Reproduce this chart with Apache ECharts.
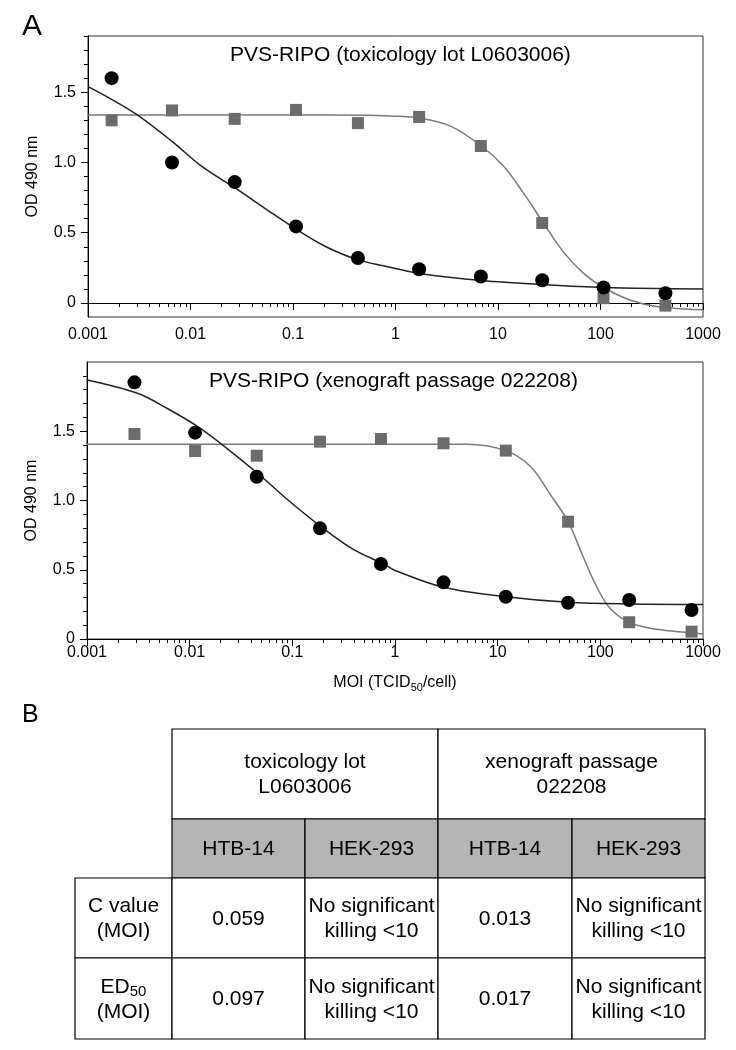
<!DOCTYPE html>
<html><head><meta charset="utf-8">
<script src="https://cdn.jsdelivr.net/npm/echarts@6/dist/echarts.min.js"></script>
<style>html,body{margin:0;padding:0;background:#fff}#c{width:736px;height:1050px}</style>
</head><body><div id="c"></div>
<script>
// ---------- data ----------
const xTicks = [0.001, 0.01, 0.1, 1, 10, 100, 1000];
const xTickLabels = ['0.001', '0.01', '0.1', '1', '10', '100', '1000'];
const yTicks = [0, 0.5, 1.0, 1.5];
const yTickLabels = ['0', '0.5', '1.0', '1.5'];
const yMinorTicks = [0.1,0.2,0.3,0.4,0.6,0.7,0.8,0.9,1.1,1.2,1.3,1.4,1.6,1.7,1.8,1.9];
const xMinorTicks = [0.002,0.003,0.004,0.005,0.006,0.007,0.008,0.009,
  0.02,0.03,0.04,0.05,0.06,0.07,0.08,0.09,0.2,0.3,0.4,0.5,0.6,0.7,0.8,0.9,
  2,3,4,5,6,7,8,9,20,30,40,50,60,70,80,90,200,300,400,500,600,700,800,900];

const titleTox = 'PVS-RIPO (toxicology lot L0603006)';
const titleXeno = 'PVS-RIPO (xenograft passage 022208)';

// toxicology lot: HTB-14 (circles), HEK-293 (squares)
const toxDose    = [0.0017, 0.0066, 0.027, 0.107, 0.43, 1.7, 6.8, 27, 107, 430];
const toxHTB14   = [1.60, 1.00, 0.86, 0.545, 0.32, 0.24, 0.188, 0.162, 0.11, 0.069];
const toxHEK293  = [1.30, 1.37, 1.31, 1.374, 1.28, 1.324, 1.117, 0.569, 0.034, -0.019];
const toxFitHTB14X = [0.001, 0.0016, 0.003, 0.0066, 0.013, 0.027, 0.054, 0.11, 0.21, 0.42, 1, 1.7, 6.9, 28, 107, 1000];
const toxFitHTB14Y = [1.54, 1.46, 1.34, 1.15, 0.97, 0.82, 0.67, 0.52, 0.40, 0.31, 0.245, 0.21, 0.16, 0.13, 0.11, 0.10];
const toxFitHEKX = [0.001, 0.1, 0.5, 0.88, 1.7, 3.4, 6.9, 11.3, 17.7, 27.7, 43, 68, 107, 194, 353, 746, 1000];
const toxFitHEKY = [1.338, 1.338, 1.336, 1.331, 1.317, 1.26, 1.117, 0.974, 0.783, 0.569, 0.367, 0.212, 0.11, 0.021, -0.026, -0.045, -0.048];

// xenograft passage: HTB-14 (circles), HEK-293 (squares)
const xenoDose   = [0.0029, 0.0113, 0.045, 0.186, 0.73, 2.97, 12, 48.5, 191, 774];
const xenoHTB14  = [1.853, 1.49, 1.172, 0.799, 0.541, 0.409, 0.305, 0.262, 0.282, 0.209];
const xenoHEK293 = [1.48, 1.357, 1.323, 1.425, 1.444, 1.413, 1.36, 0.847, 0.121, 0.053];
const xenoFitHTB14X = [0.001, 0.0031, 0.006, 0.012, 0.023, 0.048, 0.095, 0.2, 0.4, 0.78, 1, 2.97, 12, 48.5, 194, 1000];
const xenoFitHTB14Y = [1.87, 1.774, 1.666, 1.533, 1.377, 1.184, 0.991, 0.799, 0.643, 0.541, 0.495, 0.373, 0.305, 0.265, 0.253, 0.25];
const xenoFitHEKX = [0.001, 1, 4.9, 12, 21, 32, 48.5, 68, 92, 124, 194, 353, 746, 1000];
const xenoFitHEKY = [1.406, 1.406, 1.406, 1.36, 1.244, 1.052, 0.847, 0.594, 0.378, 0.222, 0.118, 0.07, 0.046, 0.036];

// table (panel B)
const tableGroups = ['toxicology lot\nL0603006', 'xenograft passage\n022208'];
const cellLines = ['HTB-14', 'HEK-293', 'HTB-14', 'HEK-293'];
const rowLabels = ['{a|C value}\n{a|(MOI)}', '{a|ED}{s|50}\n{a|(MOI)}'];
const rowValues = [
  ['0.059', 'No significant\nkilling <10', '0.013', 'No significant\nkilling <10'],
  ['0.097', 'No significant\nkilling <10', '0.017', 'No significant\nkilling <10']
];

// ---------- layout / style ----------
const FONT = "'Liberation Sans', Arial, sans-serif";
const zip = (a, b) => a.map((v, i) => [v, b[i]]);
const xLabelFmt = v => xTickLabels[Math.round(Math.log10(v)) + 3];
const yLabelFmt = v => { const i = yTicks.findIndex(t => Math.abs(t - v) < 1e-9); return i >= 0 ? yTickLabels[i] : ''; };

function xAxesFor(grid, labelMargin, name) {
  const base = {
    gridIndex: grid, type: 'log', logBase: 10, min: 0.001, max: 1000, position: 'bottom',
    splitLine: { show: false }
  };
  return [
    Object.assign({}, base, {
      axisLine: { show: true, lineStyle: { color: '#000', width: 1 } },
      axisTick: { show: true, customValues: xTicks, length: 7, lineStyle: { color: '#000' } },
      axisLabel: { customValues: xTicks, formatter: xLabelFmt, margin: labelMargin, color: '#000', fontSize: 16, fontFamily: FONT },
      name: name || '', nameLocation: 'middle', nameGap: 34,
      nameTextStyle: {
        color: '#000', fontFamily: FONT,
        rich: { a: { fontSize: 16, lineHeight: 20, fontFamily: FONT, color: '#000' },
                s: { fontSize: 11, lineHeight: 8, fontFamily: FONT, color: '#000', verticalAlign: 'bottom' } }
      }
    }),
    Object.assign({}, base, {
      axisLine: { show: false },
      axisTick: { show: true, customValues: xMinorTicks, length: 4, lineStyle: { color: '#000' } },
      axisLabel: { show: false }
    })
  ];
}
function yAxesFor(grid, min, max) {
  const base = { gridIndex: grid, type: 'value', min: min, max: max, position: 'left', splitLine: { show: false } };
  return [
    Object.assign({}, base, {
      axisLine: { show: true, lineStyle: { color: '#000', width: 1 } },
      axisTick: { show: true, customValues: yTicks, length: 7, lineStyle: { color: '#000' } },
      axisLabel: { customValues: yTicks, formatter: yLabelFmt, margin: 12, color: '#000', fontSize: 16, fontFamily: FONT },
      name: 'OD 490 nm', nameLocation: 'middle', nameGap: 47,
      nameTextStyle: { color: '#000', fontSize: 16, fontFamily: FONT }
    }),
    Object.assign({}, base, {
      axisLine: { show: false },
      axisTick: { show: true, customValues: yMinorTicks, length: 4, lineStyle: { color: '#000' } },
      axisLabel: { show: false }
    })
  ];
}

const CIRCLE = { type: 'scatter', symbol: 'circle', symbolSize: 14, itemStyle: { color: '#000', opacity: 1 }, z: 5 };
const SQUARE = { type: 'scatter', symbol: 'rect', symbolSize: 12, itemStyle: { color: '#6c6c6c', opacity: 1 }, z: 4 };
const FITBLACK = { type: 'line', smooth: 0.35, showSymbol: false, symbol: 'none', lineStyle: { color: '#222', width: 1.5 }, z: 3 };
const FITGRAY = { type: 'line', smooth: 0.35, showSymbol: false, symbol: 'none', lineStyle: { color: '#7a7a7a', width: 1.5 }, z: 2 };

const series = [
  Object.assign({}, FITGRAY, { xAxisIndex: 0, yAxisIndex: 0, data: zip(toxFitHEKX, toxFitHEKY) }),
  Object.assign({}, FITBLACK, { xAxisIndex: 0, yAxisIndex: 0, data: zip(toxFitHTB14X, toxFitHTB14Y) }),
  Object.assign({}, SQUARE, { xAxisIndex: 0, yAxisIndex: 0, data: zip(toxDose, toxHEK293) }),
  Object.assign({}, CIRCLE, { xAxisIndex: 0, yAxisIndex: 0, data: zip(toxDose, toxHTB14) }),
  Object.assign({}, FITGRAY, { xAxisIndex: 2, yAxisIndex: 2, data: zip(xenoFitHEKX, xenoFitHEKY) }),
  Object.assign({}, FITBLACK, { xAxisIndex: 2, yAxisIndex: 2, data: zip(xenoFitHTB14X, xenoFitHTB14Y) }),
  Object.assign({}, SQUARE, { xAxisIndex: 2, yAxisIndex: 2, data: zip(xenoDose, xenoHEK293) }),
  Object.assign({}, CIRCLE, { xAxisIndex: 2, yAxisIndex: 2, data: zip(xenoDose, xenoHTB14) })
];

// table graphics
const colX = [75, 172, 305, 438, 572, 705];
const rowY = [729, 819, 878, 958, 1039];
const cellText = { fontSize: 21, fontFamily: FONT, fill: '#000', align: 'center', verticalAlign: 'middle', lineHeight: 25 };
const graphics = [];
function cell(x0, x1, y0, y1, fill, text, rich) {
  graphics.push({ type: 'rect', shape: { x: x0, y: y0, width: x1 - x0, height: y1 - y0 },
    style: { fill: fill, stroke: '#000', lineWidth: 1.2 }, z: 10 });
  graphics.push({ type: 'text', x: (x0 + x1) / 2, y: (y0 + y1) / 2 + 1,
    style: Object.assign({}, cellText, { text: text }, rich ? { rich: rich } : {}), z: 11 });
}
tableGroups.forEach((g, i) => cell(colX[1 + 2 * i], colX[3 + 2 * i], rowY[0], rowY[1], '#fff', g));
cellLines.forEach((c, j) => cell(colX[1 + j], colX[2 + j], rowY[1], rowY[2], '#b4b4b4', c));
const richLbl = { a: { fontSize: 21, fontFamily: FONT, lineHeight: 25 }, s: { fontSize: 15, fontFamily: FONT, lineHeight: 10, verticalAlign: 'bottom' } };
rowLabels.forEach((lbl, r) => {
  cell(colX[0], colX[1], rowY[2 + r], rowY[3 + r], '#fff', lbl, richLbl);
  rowValues[r].forEach((v, j) => cell(colX[1 + j], colX[2 + j], rowY[2 + r], rowY[3 + r], '#fff', v));
});
graphics.push({ type: 'text', x: 22, y: 12, style: { text: 'A', fontSize: 30, fontFamily: FONT, fill: '#000' } });
graphics.push({ type: 'text', x: 22, y: 703, style: { text: 'B', fontSize: 25, fontFamily: FONT, fill: '#000' } });

const option = {
  animation: false,
  backgroundColor: '#fff',
  title: [
    { text: titleTox, left: 230, top: 45, padding: 0, textStyle: { fontSize: 21, fontWeight: 'normal', color: '#000', fontFamily: FONT } },
    { text: titleXeno, left: 209, top: 371, padding: 0, textStyle: { fontSize: 21, fontWeight: 'normal', color: '#000', fontFamily: FONT } }
  ],
  grid: [
    { left: 88, top: 36, width: 615, height: 281, show: true, borderColor: '#333', borderWidth: 1, backgroundColor: 'transparent' },
    { left: 87, top: 362, width: 616, height: 277, show: true, borderColor: '#333', borderWidth: 1, backgroundColor: 'transparent' }
  ],
  xAxis: [].concat(xAxesFor(0, 10, ''), xAxesFor(1, 6, '{a|MOI (TCID}{s|50}{a|/cell)}')),
  yAxis: [].concat(yAxesFor(0, -0.1, 1.9), yAxesFor(1, 0, 2.0)),
  series: series,
  graphic: graphics
};
const chart = echarts.init(document.getElementById('c'), null, { renderer: 'canvas' });
chart.setOption(option);
</script></body></html>
